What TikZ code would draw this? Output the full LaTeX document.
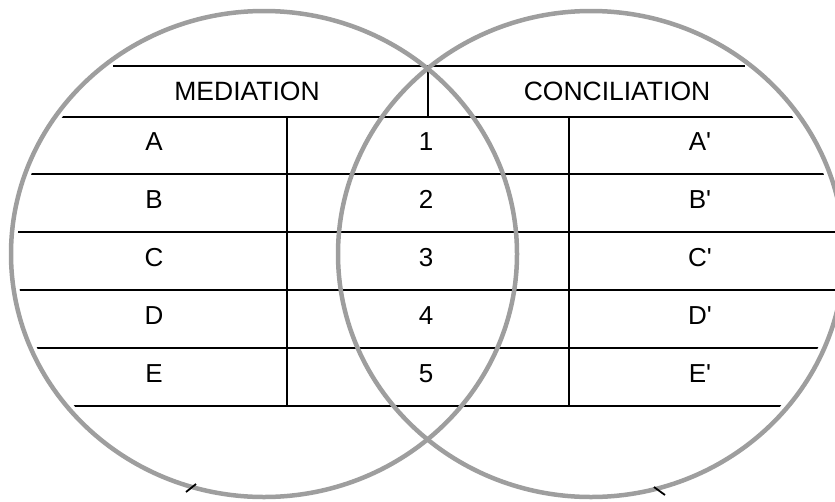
\documentclass[tikz,border=0pt]{standalone}
\usepackage{fontspec}
\setmainfont{Liberation Sans}
\begin{document}
\begin{tikzpicture}[x=1pt,y=-1pt,
  tline/.style={black,line width=1.3pt},
  ring/.style={black!38,line width=4.5pt},
  tick/.style={black,line width=1.8pt},
  lbl/.style={anchor=base,inner sep=0pt,font=\fontsize{26}{31}\selectfont},
  hdr/.style={anchor=base,inner sep=0pt,font=\fontsize{26.5}{31}\selectfont}]
\useasboundingbox (0,0) rectangle (835,501);
% table lines, clipped to the union of the two circles
\begin{scope}
  \clip (264,254) ellipse [x radius=247, y radius=237]
        (591,254) ellipse [x radius=247, y radius=237];
  \foreach \yy in {117,174,232,290,348,406}
    \draw[tline] (0,\yy) -- (835,\yy);
\end{scope}
\coordinate (tl) at (113,66);
\coordinate (tr) at (745,66);
\draw[tline] (tl) -- (tr);
\draw[tline] (428,66) -- (428,117);
\draw[tline] (287,117) -- (287,406);
\draw[tline] (569,117) -- (569,406);
% circles
\draw[ring] (264,254) ellipse [x radius=253, y radius=243];
\draw[ring] (591,254) ellipse [x radius=253, y radius=243];
\draw[tick] (186,492) -- (196,484);
\draw[tick] (654,487) -- (665,495);
% texts
\node[hdr] (med) at (247,100) {MEDIATION};
\node[hdr] (con) at (617,100) {CONCILIATION};
\foreach \t/\n [count=\i from 0] in {A/1,B/2,C/3,D/4,E/5}{
  \node[lbl] (l\i) at (154,150+58*\i) {\t};
  \node[lbl] (n\i) at (426,150+58*\i) {\n};
  \node[lbl] (r\i) at (700,150+58*\i) {\t\textquotesingle};
}
\end{tikzpicture}
\end{document}
